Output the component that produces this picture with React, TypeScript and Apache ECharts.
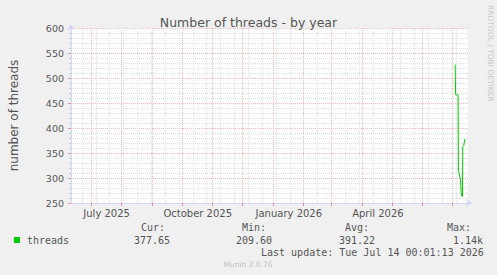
import React, { useEffect, useRef } from "react";
import * as echarts from "echarts";

// ---- data ----
const threadTimes = [
  "2026-07-04T00:00:00Z",
  "2026-07-04T12:00:00Z",
  "2026-07-07T00:00:00Z",
  "2026-07-07T07:00:00Z",
  "2026-07-09T10:00:00Z",
  "2026-07-10T05:00:00Z",
  "2026-07-11T10:00:00Z",
  "2026-07-11T17:00:00Z",
  "2026-07-12T17:00:00Z",
  "2026-07-13T17:00:00Z",
  "2026-07-14T00:00:00Z",
];
const threadValues = [527, 467, 466, 316, 296, 266, 263, 363, 365, 376, 378];

const monthStarts = [
  "2025-07-01", "2025-08-01", "2025-09-01", "2025-10-01", "2025-11-01",
  "2025-12-01", "2026-01-01", "2026-02-01", "2026-03-01", "2026-04-01",
  "2026-05-01", "2026-06-01", "2026-07-01",
];
const xLabelDates = ["2025-07-17", "2025-10-17", "2026-01-17", "2026-04-17"];
const xLabelTexts = ["July 2025", "October 2025", "January 2026", "April 2026"];

const statLabels = ["Cur:", "Min:", "Avg:", "Max:"];
const statValues = ["377.65", "209.60", "391.22", "1.14k"];
const seriesName = "threads";

const xMin = Date.parse("2025-06-11T00:00:00Z");
const xMax = Date.parse("2026-07-17T00:00:00Z");
const minorGridStart = Date.parse("2025-06-22T00:00:00Z");
const DAY = 86400000;

export default function App() {
  const ref = useRef<HTMLDivElement>(null);
  useEffect(() => {
    if (!ref.current) return;
    const chart = echarts.init(ref.current, undefined, { renderer: "svg" });
    const monthTimes = monthStarts.map((d) => Date.parse(d + "T00:00:00Z"));
    const labelTimes = xLabelDates.map((d) => Date.parse(d + "T00:00:00Z"));
    const minorTimes: number[] = [];
    for (let t = minorGridStart; t < xMax; t += 14 * DAY) minorTimes.push(t);

    const mono = "DejaVu Sans Mono";
    const sans = "DejaVu Sans";
    const fg = "#555";
    const majorGrid = "#F2B8B8";
    const minorGrid = "#E0E0E0";
    const statX = [141, 242, 345, 447];
    const valX = [134, 236, 339, 453];

    const graphics: any[] = [
      {
        type: "text",
        x: 490,
        y: 5,
        rotation: -Math.PI / 2,
        style: {
          text: "RRDTOOL / TOBI OETIKER",
          fill: "#c8c8c8",
          font: `7.5px ${sans}`,
          align: "left",
          verticalAlign: "middle",
        },
      },
      {
        type: "rect",
        shape: { x: 14, y: 237, width: 6, height: 6 },
        style: { fill: "#00CC00" },
      },
      {
        type: "text",
        x: 27,
        y: 240,
        style: { text: seriesName, fill: fg, font: `10px ${mono}`, verticalAlign: "middle" },
      },
      {
        type: "text",
        x: 261,
        y: 252,
        style: {
          text: "Last update: Tue Jul 14 00:01:13 2026",
          fill: fg,
          font: `10px ${mono}`,
          verticalAlign: "middle",
        },
      },
      {
        type: "text",
        x: 248,
        y: 264,
        style: {
          text: "Munin 2.0.76",
          fill: "#c0c0c0",
          font: `7.5px ${sans}`,
          align: "center",
          verticalAlign: "middle",
        },
      },
    ];
    statLabels.forEach((s, i) => {
      graphics.push({
        type: "text",
        x: statX[i],
        y: 227.5,
        style: { text: s, fill: fg, font: `10px ${mono}`, verticalAlign: "middle" },
      });
      graphics.push({
        type: "text",
        x: valX[i],
        y: 240,
        style: { text: statValues[i], fill: fg, font: `10px ${mono}`, verticalAlign: "middle" },
      });
    });

    const gridLine = (t: number, color: string) => ({
      xAxis: t,
      lineStyle: { color, type: [1, 1], width: 1 },
    });

    chart.setOption({
      animation: false,
      backgroundColor: "#F0F0F0",
      title: {
        text: "Number of threads - by year",
        left: "center",
        top: 11,
        textStyle: { fontFamily: sans, fontSize: 12.5, fontWeight: "normal", color: fg },
      },
      grid: {
        left: 67,
        top: 28,
        width: 401,
        height: 175,
        show: true,
        backgroundColor: "#FFFFFF",
        borderWidth: 0,
      },
      xAxis: {
        type: "value",
        min: xMin,
        max: xMax,
        axisLine: {
          show: true,
          lineStyle: { color: "#CFD6F8", width: 1 },
          symbol: ["none", "arrow"],
          symbolSize: [6, 6],
          symbolOffset: [0, 4],
        },
        axisTick: {
          show: true,
          customValues: monthTimes,
          length: 3,
          lineStyle: { color: "#E89090" },
        },
        axisLabel: {
          customValues: labelTimes,
          formatter: (v: number) => {
            const i = labelTimes.indexOf(v);
            return i >= 0 ? xLabelTexts[i] : "";
          },
          fontFamily: sans,
          fontSize: 10,
          color: fg,
          margin: 5,
        },
        splitLine: { show: false },
      },
      yAxis: {
        type: "value",
        min: 250,
        max: 600,
        interval: 50,
        name: "number of threads",
        nameLocation: "middle",
        nameGap: 51,
        nameTextStyle: { fontFamily: sans, fontSize: 12, color: fg },
        axisLine: {
          show: true,
          lineStyle: { color: "#CFD6F8", width: 1 },
          symbol: ["none", "arrow"],
          symbolSize: [6, 6],
          symbolOffset: [0, 4],
        },
        axisTick: { show: true, length: 3, lineStyle: { color: "#E89090" } },
        minorTick: { show: true, splitNumber: 5, length: 2, lineStyle: { color: "#cccccc" } },
        axisLabel: { fontFamily: sans, fontSize: 9.5, color: fg, margin: 7 },
        splitLine: { show: true, lineStyle: { color: majorGrid, type: [1, 1] } },
        minorSplitLine: { show: true, lineStyle: { color: minorGrid, type: [1, 1] } },
      },
      series: [
        {
          name: "minor-grid",
          type: "line",
          data: [],
          silent: true,
          markLine: {
            silent: true,
            symbol: ["none", "none"],
            label: { show: false },
            data: minorTimes.map((t) => gridLine(t, minorGrid)),
          },
        },
        {
          name: "major-grid",
          type: "line",
          data: [],
          silent: true,
          markLine: {
            silent: true,
            symbol: ["none", "none"],
            label: { show: false },
            data: monthTimes.map((t) => gridLine(t, majorGrid)),
          },
        },
        {
          name: seriesName,
          type: "line",
          data: threadTimes.map((t, i) => [Date.parse(t), threadValues[i]]),
          showSymbol: false,
          symbol: "none",
          lineStyle: { color: "#00CC00", width: 1 },
          z: 5,
        },
      ],
      graphic: graphics,
    });
    return () => chart.dispose();
  }, []);
  return (
    <div
      ref={ref}
      style={{ position: "fixed", left: 0, top: 0, width: 497, height: 275 }}
    />
  );
}
